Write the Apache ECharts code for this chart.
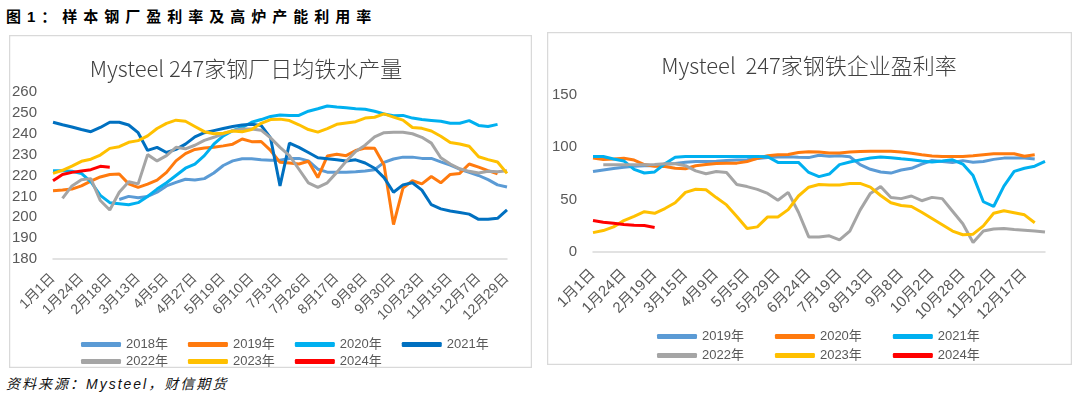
<!DOCTYPE html>
<html>
<head>
<meta charset="utf-8">
<script src="https://cdn.jsdelivr.net/npm/echarts@6/dist/echarts.min.js"></script>
<style>
  body { margin: 0; width: 1080px; height: 399px; background: #fff; position: relative; overflow: hidden;
         font-family: "Liberation Sans", "Noto Sans CJK SC", sans-serif; }
  #head { position: absolute; left: 6px; top: 5px; font-size: 15px; font-weight: bold; letter-spacing: 6px; color: #000; }
  #foot { position: absolute; left: 6px; top: 373px; font-size: 14px; font-style: italic; letter-spacing: 2px; color: #111; }
  #left { position: absolute; left: 9px; top: 35px; width: 523px; height: 333px; }
  #right { position: absolute; left: 547px; top: 32px; width: 525px; height: 333px; }
</style>
</head>
<body>
<div id="head">图1：样本钢厂盈利率及高炉产能利用率</div>
<div id="left"></div>
<div id="right"></div>
<div id="foot">资料来源：Mysteel，财信期货</div>
<script>
// 左图：247家钢厂日均铁水产量（万吨）
var datesA = ['1月1日','1月8日','1月16日','1月24日','2月1日','2月9日','2月18日','2月25日','3月5日',
  '3月13日','3月20日','3月28日','4月5日','4月12日','4月20日','4月27日','5月4日','5月12日',
  '5月19日','5月26日','6月3日','6月10日','6月17日','6月25日','7月3日','7月10日','7月18日',
  '7月26日','8月2日','8月10日','8月17日','8月24日','9月1日','9月8日','9月15日','9月23日',
  '9月30日','10月7日','10月15日','10月23日','10月30日','11月7日','11月15日','11月22日','11月30日',
  '12月7日','12月14日','12月22日','12月29日'];
var iron2018 = [null,null,null,null,null,null,null,208.5,210,209.3,210,212,215,216.7,218.2,217.8,218.5,
  221.2,224.8,227,228,228,227.6,227.3,227.3,228.1,228.2,227,223,221.6,221.5,221.5,221.8,222.2,222.8,
  226.3,227.9,228.8,228.8,228.2,228.2,226.5,225,223,221.5,220,218,215.5,214.5];
var iron2019 = [212.7,213,213.5,215,217.3,219.3,220.5,220.7,216,214.3,215.9,217.8,221.5,227,230.5,232.5,
  233.2,233.5,234.2,235,237.5,236.2,236.3,232,226.3,226,225.5,226.8,219,229.3,230.2,229.5,232,233.2,
  233,225,196.5,214,217.5,216,219.5,216.5,220.5,221,225.5,224,222.3,220.8,null];
var iron2020 = [222.3,222.3,222,221,217,210.5,207,206.5,206,207,210,213.5,216.5,220,223.5,225.5,229.5,
  235,239,241.5,243,245.5,246.8,248.3,249,248.8,248.8,250.8,252,253.3,252.8,252.4,252,251.7,250.8,
  249.5,248.6,248.8,247.5,246.8,246.4,246,245,245,246.3,244,243.5,244.5,null];
var iron2021 = [245.5,244.3,243.2,242,241,243,245.5,245.5,244.2,240.5,232,233.5,231,232.5,235,238.5,
  240.5,241.5,242.5,243.5,244.2,244.5,244,238,215,235.5,233.5,231,228.5,228,227.5,227,227.5,226,
  223.5,219,212,215.5,216.5,213,206,204,203,202.3,201.5,199,199,199.5,203.5];
var iron2022 = [null,209,215,218,218.5,208,203.5,212,217,216,230,227,229.5,233.5,232.8,234.5,236.8,
  238.3,240,241.5,242.3,242.3,241.7,238,233.5,229.5,223,216.5,214.3,216.5,221.5,226.8,231.5,234.5,
  238.5,240.5,240.7,240.7,240,238.3,235.5,228.5,225.5,223.2,222,221.2,222,221.8,222.3];
var iron2023 = [221,222.5,224.5,226.8,227.8,229.8,233,233.8,235.9,236.7,239,242.5,245,246.5,246,243.5,
  241,240,240.2,241.3,241,242,245,246.8,247,246.3,244.3,242,240.8,242.5,244.5,245.2,245.8,247.5,
  247.9,249.5,248,246.5,243,242.6,241.3,238.8,235.8,235.1,234,229,227.6,226.5,221];
var iron2024 = [217.5,220.5,221.5,222.2,222.8,224.4,224];

// 右图：247家钢铁企业盈利率（%）
var datesB = ['1月1日','1月8日','1月16日','1月24日','2月2日','2月10日','2月19日','2月27日','3月7日',
  '3月15日','3月23日','4月1日','4月9日','4月18日','4月26日','5月5日','5月13日','5月21日',
  '5月29日','6月7日','6月15日','6月24日','7月2日','7月10日','7月19日','7月27日','8月4日',
  '8月13日','8月22日','8月30日','9月8日','9月16日','9月24日','10月2日','10月11日','10月19日',
  '10月28日','11月5日','11月13日','11月22日','11月30日','12月8日','12月17日','12月24日','12月31日'];
var profit2019 = [76.9,78.4,79.8,81,82,82.4,82.4,83.8,84.6,85.8,86.5,86.5,86.8,87.4,87.8,88.1,89.3,90.3,
  90.8,91.1,90.5,90.2,92.5,91.5,92,91,83.5,79,76.5,75.4,78.3,80,84,87.4,86.5,85.6,87.3,85.8,86.5,
  88.5,89.7,89.7,89.7,88.8,null];
var profit2020 = [89.7,88.3,88.8,89.5,87.8,83.5,82,81.7,80,79.5,82.4,83.5,84.5,84.9,84.9,86.5,89.5,92,
  92.9,93.2,95,95.8,95.5,94.6,94.6,95.5,96,96.2,96.2,96.2,95.5,94.3,93,91.8,91.3,91.3,91.3,92,93,
  93.8,93.9,93.9,91.5,92.9,null];
var profit2021 = [91.3,91.3,88.8,87,79,75.5,76.5,84.3,90.5,91.3,91.3,91.3,91.3,91.3,91.3,91.3,91.3,91,
  85.6,85.6,85.6,76,72,74.5,83.5,86,88,89.8,90.7,90,89,88.2,87,86,87,88.1,84,73,48,43.5,63,77,80,
  82,86.5];
var profit2022 = [null,83.3,83.3,83.3,83.3,83.3,83.5,84.3,84.3,82.5,77.5,74.7,76.9,76,64.5,62.5,59.8,56,
  49.5,57,38,14.4,14.4,15.5,11.5,20,40,56,62.5,52,51,53.5,49,52.2,51,39,27,9,20,22,22.5,21.5,20.8,
  20,19];
var profit2023 = [18.5,20.5,24,30,34,38.5,37,41.5,47,57,59.9,59.5,52,45,34,22.4,24,33.5,33.5,40.5,53.5,
  61.9,64.5,64.1,64.1,65.5,65.5,62,54,47,44.5,43.5,38,32,26,20,16.5,17,25,37,39.4,37.5,35.5,28,null];
var profit2024 = [30,28.5,27.5,26.2,25.6,25.3,23.5];

var yearsA = ['2018年','2019年','2020年','2021年','2022年','2023年','2024年'];
var yearsB = ['2019年','2020年','2021年','2022年','2023年','2024年'];

var FONT = '"Liberation Sans", "Noto Sans CJK SC", sans-serif';
var GREY = '#595959';

function line(name, data, color) {
  return {
    name: name, type: 'line', data: data, symbol: 'none', smooth: false,
    lineStyle: { width: 3, color: color }, itemStyle: { color: color },
    emphasis: { disabled: true }
  };
}

function legendRow(names, left, top, gap) {
  return {
    data: names, left: left, top: top, orient: 'horizontal',
    icon: 'roundRect', itemWidth: 40, itemHeight: 5, itemGap: gap,
    selectedMode: false,
    textStyle: { color: GREY, fontSize: 13, fontFamily: FONT }
  };
}

// 每三个日期标一个
function everyThird(index) { return index % 3 === 0; }

function baseOption(cfg) {
  return {
    animation: false,
    textStyle: { fontFamily: FONT },
    graphic: [
      { type: 'rect', shape: { x: 0.5, y: 0.5, width: cfg.w - 1, height: cfg.h - 1 },
        style: { fill: 'none', stroke: '#D9D9D9', lineWidth: 1.5 }, silent: true },
      { type: 'text', x: cfg.titleX, y: cfg.titleY, silent: true,
        style: { text: cfg.title, fill: '#404040', font: '300 22px "Noto Sans CJK SC", sans-serif',
                 textAlign: 'center', textVerticalAlign: 'middle' } }
    ],
    grid: cfg.grid,
    legend: cfg.legend,
    xAxis: {
      type: 'category', data: cfg.cats, boundaryGap: false,
      axisLine: { lineStyle: { color: '#D9D9D9', width: 1.5 } },
      axisTick: { show: false },
      axisLabel: { interval: everyThird, rotate: 45, margin: cfg.labelMargin, color: GREY,
                   fontSize: cfg.labelSize, fontFamily: FONT },
      splitLine: { show: false }
    },
    yAxis: {
      type: 'value', min: cfg.min, max: cfg.max, interval: cfg.step,
      axisLine: { show: false }, axisTick: { show: false }, splitLine: { show: false },
      axisLabel: { color: GREY, fontSize: 15, margin: 16, fontFamily: FONT }
    },
    series: cfg.series
  };
}

var chartA = echarts.init(document.getElementById('left'));
chartA.setOption(baseOption({
  w: 523, h: 333, title: 'Mysteel 247家钢厂日均铁水产量', titleX: 237, titleY: 34,
  grid: { left: 44, top: 57, width: 454, height: 167 },
  legend: [legendRow(yearsA.slice(0, 4), 67, 298, 20), legendRow(yearsA.slice(4), 67, 315, 20)],
  cats: datesA, min: 180, max: 260, step: 10, labelMargin: 17, labelSize: 14,
  series: [
    line(yearsA[0], iron2018, '#5B9BD5'),
    line(yearsA[1], iron2019, '#FF7A0E'),
    line(yearsA[2], iron2020, '#00B0F0'),
    line(yearsA[3], iron2021, '#0070C0'),
    line(yearsA[4], iron2022, '#A5A5A5'),
    line(yearsA[5], iron2023, '#FFC000'),
    line(yearsA[6], iron2024, '#FF0000')
  ]
}));

var chartB = echarts.init(document.getElementById('right'));
chartB.setOption(baseOption({
  w: 525, h: 333, title: 'Mysteel  247家钢铁企业盈利率', titleX: 262, titleY: 34,
  grid: { left: 46, top: 63, width: 452, height: 157 },
  legend: [legendRow(yearsB.slice(0, 3), 105, 293, 31), legendRow(yearsB.slice(3), 105, 312, 31)],
  cats: datesB, min: 0, max: 150, step: 50, labelMargin: 20, labelSize: 15,
  series: [
    line(yearsB[0], profit2019, '#5B9BD5'),
    line(yearsB[1], profit2020, '#FF7A0E'),
    line(yearsB[2], profit2021, '#00B0F0'),
    line(yearsB[3], profit2022, '#A5A5A5'),
    line(yearsB[4], profit2023, '#FFC000'),
    line(yearsB[5], profit2024, '#FF0000')
  ]
}));
</script>
</body>
</html>
